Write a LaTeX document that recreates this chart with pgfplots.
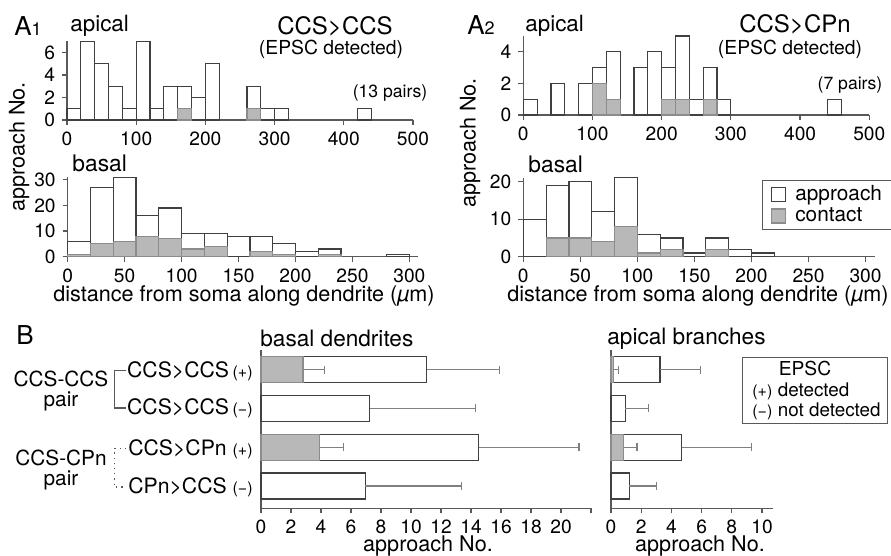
\documentclass[border=0pt]{standalone}
\usepackage{fontspec}
\setmainfont{TeX Gyre Heros}
\usepackage{pgfplots}
\pgfplotsset{compat=1.18}

\newcommand\fs[1]{\fontsize{#1}{#1}\selectfont}
\definecolor{edge}{gray}{0.25}
\definecolor{cfill}{gray}{0.72}
\definecolor{cedge}{gray}{0.55}
\definecolor{axgray}{gray}{0.35}
\definecolor{errgray}{gray}{0.5}

\pgfplotsset{
  panel/.style={
    scale only axis, anchor=south west,
    axis x line=bottom, axis y line=left,
    axis line style={-, draw=axgray, line width=0.6pt},
    every tick/.style={draw=axgray, line width=0.6pt},
    tick align=outside, major tick length=2.5pt,
    tick label style={font=\fs{9.6}},
    /pgf/number format/assume math mode=true,
    enlargelimits=false, clip=false,
  },
  appr/.style={ybar, bar width=20, fill=white, draw=edge, line width=0.6pt},
  cont/.style={ybar, bar width=20, fill=cfill, draw=cedge, line width=0.6pt},
  hbar/.style={xbar, bar width=13pt, line width=0.6pt,
    error bars/x dir=plus, error bars/x explicit,
    error bars/error bar style={draw=errgray, line width=0.6pt},
    error bars/error mark options={draw=errgray, line width=0.6pt, mark size=2pt, rotate=90}},
  bpanel/.style={panel, ymin=0.42, ymax=4.5, ytick=\empty, height=79pt,
    xticklabel style={inner sep=1pt, yshift=-2.2pt}},
}

\begin{document}
\begin{tikzpicture}
\useasboundingbox (0,0) rectangle (445.5pt,-278pt);

% ---------- A1 apical ----------
\begin{axis}[panel, at={(33.5pt,-60pt)}, width=173pt, height=39.4pt,
  xmin=0, xmax=500, ymin=0, ymax=7,
  xtick={0,100,...,500}, ytick={0,2,4,6}]
\addplot[appr] coordinates {(10,1)(30,7)(50,5)(70,3)(90,1)(110,7)(130,1)(150,3)(170,3)(190,2)(210,5)(270,3)(290,1)(310,1)(430,1)};
\addplot[cont] coordinates {(170,1)(270,1)};
\end{axis}

% ---------- A1 basal ----------
\begin{axis}[panel, at={(33.85pt,-128.35pt)}, width=175.4pt, height=39.7pt,
  xmin=0, xmax=308, ymin=0, ymax=31,
  xtick={0,50,...,300}, ytick={0,10,20,30}]
\addplot[appr] coordinates {(10,6)(30,27)(50,31)(70,16)(90,19)(110,9)(130,9)(150,8)(170,8)(190,5)(210,2)(230,3)(290,1)};
\addplot[cont] coordinates {(10,1)(30,5)(50,6)(70,8)(90,7)(110,3)(130,4)(170,2)(190,1)(230,1)};
\end{axis}

% ---------- A2 apical ----------
\begin{axis}[panel, at={(261.65pt,-57.5pt)}, width=173pt, height=39.5pt,
  xmin=0, xmax=500, ymin=0, ymax=5,
  xtick={0,100,...,500}, ytick={0,2,4}]
\addplot[appr] coordinates {(10,1)(50,2)(90,2)(110,3)(130,4)(170,3)(190,4)(210,3)(230,5)(250,1)(270,3)(290,1)(450,1)};
\addplot[cont] coordinates {(110,2)(130,1)(210,1)(230,1)(270,1)};
\end{axis}

% ---------- A2 basal ----------
\begin{axis}[panel, at={(261.65pt,-128.35pt)}, width=175.7pt, height=39.4pt,
  xmin=0, xmax=308, ymin=0, ymax=21,
  xtick={0,50,...,300}, ytick={0,10,20},
  legend style={at={(0.678,0.974)}, anchor=north west, draw=axgray,
    line width=0.6pt, font=\fs{10.4}, inner xsep=4.5pt, inner ysep=1.4pt,
    nodes={inner sep=1pt}, column sep=3.5pt, row sep=0pt},
  legend cell align=left,
  legend image code/.code={\draw[#1] (0pt,-3.5pt) rectangle (7pt,3.5pt);}]
\addplot[appr] coordinates {(10,10)(30,19)(50,20)(70,12)(90,21)(110,6)(130,5)(150,1)(170,5)(190,2)(210,1)};
\addlegendentry{approach}
\addplot[cont] coordinates {(30,5)(50,5)(70,4)(90,8)(110,1)(130,2)(170,2)};
\addlegendentry{contact}
\end{axis}

% ---------- B basal dendrites ----------
\begin{axis}[bpanel, at={(130.5pt,-254.2pt)}, width=165pt,
  xmin=0, xmax=22,
  xtick={0,2,...,22}, xticklabels={0,2,4,6,8,10,12,14,16,18,20,{}}]
\addplot[hbar, fill=white, draw=edge] coordinates {
  (11.05,4) +- (4.85,0)
  (7.25,3) +- (7.05,0)
  (14.5,2) +- (6.7,0)
  (6.95,1) +- (6.4,0)};
\addplot[hbar, fill=cfill, draw=cedge] coordinates {
  (2.8,4) +- (1.45,0)
  (3.9,2) +- (1.6,0)};
\end{axis}

% ---------- B apical branches ----------
\begin{axis}[bpanel, at={(305.5pt,-254.2pt)}, width=80.8pt,
  xmin=0, xmax=10.7, xtick={0,2,...,10}]
\addplot[hbar, fill=white, draw=edge] coordinates {
  (3.25,4) +- (2.7,0)
  (0.95,3) +- (1.55,0)
  (4.68,2) +- (4.6,0)
  (1.21,1) +- (1.8,0)};
\addplot[hbar, fill=cfill, draw=cedge] coordinates {
  (0.15,4) +- (0.35,0)
  (0.84,2) +- (0.88,0)};
\end{axis}

% ---------- labels (pixel coordinates) ----------
\begin{scope}[x=0.5pt, y=-0.5pt, every node/.style={inner sep=0pt}]
% A1
\node[anchor=base west] at (14,36) {\fs{13}A\fs{9}1};
\node[anchor=base west] at (70,32) {\fs{11.2}apical};
\node[anchor=base] at (335,35) {\fs{12}CCS>CCS};
\node[anchor=base] at (331,55) {\fs{9.65}(EPSC detected)};
\node[anchor=base] at (390,98) {\fs{8.8}(13 pairs)};
\node[anchor=base west] at (72,172) {\fs{11.4}basal};
\node[anchor=base] at (244,302) {\fs{10.8}distance from soma along dendrite ({\itshape µ}m)};
\node[rotate=90] at (19,147) {\fs{10.8}approach No.};
% A2
\node[anchor=base west] at (467,35) {\fs{13}A\fs{9}2};
\node[anchor=base west] at (525,31.5) {\fs{11.2}apical};
\node[anchor=base] at (795,33) {\fs{12}CCS>CPn};
\node[anchor=base] at (790,55) {\fs{9.65}(EPSC detected)};
\node[anchor=base] at (850,90) {\fs{8.8}(7 pairs)};
\node[anchor=base west] at (528,173) {\fs{11.4}basal};
\node[anchor=base] at (698,302) {\fs{10.8}distance from soma along dendrite ({\itshape µ}m)};
\node[rotate=90] at (470,143) {\fs{10.8}approach No.};
% B
\node[anchor=base west] at (16,345) {\fs{13}B};
\node[anchor=base west] at (260,347) {\fs{11.3}basal dendrites};
\node[anchor=base west] at (607,345) {\fs{11.3}apical branches};
\node[anchor=base east] at (253,377.7) {\fs{10.6}CCS>CCS\,{\fs{8}(+)}};
\node[anchor=base east] at (253,415) {\fs{10.6}CCS>CCS\,{\fs{8}(−)}};
\node[anchor=base east] at (253,455.5) {\fs{10.6}CCS>CPn\ {\fs{8}(+)}};
\node[anchor=base east] at (253,494) {\fs{10.6}CPn>CCS\ {\fs{8}(−)}};
\node[align=center, font={\fontsize{10.4}{9.8}\selectfont}] at (61,391) {CCS-CCS\\pair};
\node[align=center, font={\fontsize{10.4}{9.8}\selectfont}] at (61,470) {CCS-CPn\\pair};
\draw[axgray, line width=0.6pt] (126,370.7) -- (114.3,370.7) -- (114.3,408) -- (126,408);
\draw[axgray, line width=0.6pt, dotted] (126,448.5) -- (114.3,448.5) -- (114.3,487) -- (126,487);
\draw[axgray, line width=0.6pt] (742.7,357.3) rectangle (887.3,423.3);
\node[anchor=base] at (805,376) {\fs{9.6}EPSC};
\node[anchor=base west] at (752,397) {{\fs{8}(+)} \fs{9.4}detected};
\node[anchor=base west] at (752,417) {{\fs{8}(−)} \fs{9.4}not detected};
\node[anchor=base] at (428,552) {\fs{10.8}approach No.};
\node[anchor=base] at (700,552) {\fs{10.8}approach No.};
\end{scope}
\end{tikzpicture}
\end{document}
